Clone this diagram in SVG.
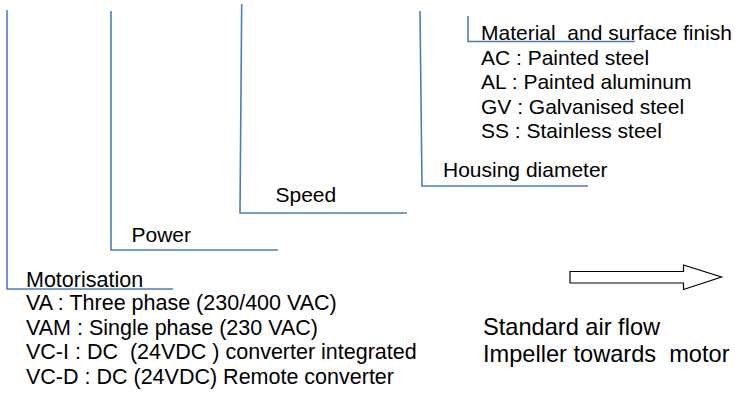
<svg xmlns="http://www.w3.org/2000/svg" width="735" height="394" viewBox="0 0 735 394">
<style>
.ln{fill:none;stroke:#4a7ebb;stroke-width:1.6}
text{font-family:"Liberation Sans",Arial,sans-serif;font-size:21px;fill:#000;white-space:pre}
.big{font-size:21.5px}
.flow{font-size:23.6px}
</style>
<rect width="735" height="394" fill="#fff"/>
<g id="connectors">
<polyline class="ln" points="7,10 7,289 173,289"/>
<polyline class="ln" points="111,11 111,250 278,250"/>
<polyline class="ln" points="241.7,4 240,213 407,213"/>
<polyline class="ln" points="420,11 422,186 588,186"/>
<polyline class="ln" points="468,16 468,41.5 635,41.5"/>
</g>
<g id="motorisation">
<text x="26" y="287" class="big">Motorisation</text>
<text x="26" y="310" class="big">VA : Three phase (230/400 VAC)</text>
<text x="26" y="334.5" class="big">VAM : Single phase (230 VAC)</text>
<text x="26" y="359" class="big" xml:space="preserve">VC-I : DC  (24VDC ) converter integrated</text>
<text x="26" y="383.5" class="big">VC-D : DC (24VDC) Remote converter</text>
</g>
<g id="power"><text x="131.5" y="241.5">Power</text></g>
<g id="speed"><text x="275.5" y="201.5">Speed</text></g>
<g id="housing"><text x="443" y="176.5">Housing diameter</text></g>
<g id="material">
<text x="481" y="40" xml:space="preserve">Material  and surface finish</text>
<text x="481" y="64.5">AC : Painted steel</text>
<text x="481" y="89">AL : Painted aluminum</text>
<text x="481" y="113.5">GV : Galvanised steel</text>
<text x="481" y="138">SS : Stainless steel</text>
</g>
<g id="airflow">
<polygon points="570,271.5 683.5,271.5 683.5,265 721.5,277 683.5,289.5 683.5,283 570,283" fill="#fff" stroke="#000" stroke-width="1.2"/>
<text x="483" y="335" class="flow">Standard air flow</text>
<text x="483" y="361.5" class="flow" xml:space="preserve">Impeller towards  motor</text>
</g>
</svg>
